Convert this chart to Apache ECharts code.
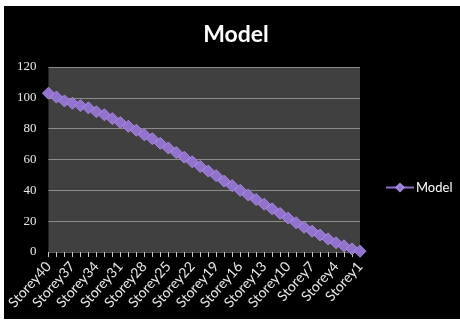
<!DOCTYPE html>
<html>
<head>
<meta charset="utf-8">
<script src="https://cdn.jsdelivr.net/npm/echarts@6/dist/echarts.min.js"></script>
<style>
html,body{margin:0;padding:0;background:#ffffff;width:460px;height:320px;overflow:hidden;}
#c{position:absolute;left:4px;top:6px;width:456px;height:313px;background:#000;}
</style>
</head>
<body>
<div id="c"></div>
<script>
const titleText = "Model";
const seriesName = "Model";
const categories = [];
for (let i = 40; i >= 1; i--) categories.push("Storey" + i);
const modelValues = [103, 100.5, 98, 96.5, 95, 93.5, 91, 89, 86.5, 84,
  81.5, 79, 76, 73.5, 70.5, 67.5, 64.5, 61.5, 58.5, 55.5,
  52.5, 49.5, 46, 43, 40, 37, 34, 31, 28, 25,
  22, 19, 16, 13.5, 11, 8.5, 6, 4, 2, 0.5];
const yTicks = { min: 0, max: 120, interval: 20 };

const chart = echarts.init(document.getElementById('c'), null, {renderer: 'canvas'});
chart.setOption({
  backgroundColor: '#000000',
  animation: false,
  title: {
    text: titleText,
    left: 227, top: 12, textAlign: 'center',
    textStyle: {color: '#ffffff', fontSize: 23, fontWeight: 'bold', fontFamily: 'Lato'}
  },
  legend: {
    data: [seriesName],
    left: 381, top: 175, padding: 0,
    itemWidth: 28, itemHeight: 9, itemGap: 2,
    textStyle: {color: '#ffffff', fontSize: 13, fontFamily: 'Lato', padding: [0, 0, 0, -3]}
  },
  grid: {
    left: 44, top: 61, right: 100, bottom: 67,
    show: true, backgroundColor: '#404040', borderWidth: 0
  },
  xAxis: {
    type: 'category',
    data: categories,
    boundaryGap: false,
    axisLine: {show: true, lineStyle: {color: '#5a5a5a', width: 1}},
    axisTick: {show: true, interval: 0, length: 5, inside: false, lineStyle: {color: '#cccccc'}},
    axisLabel: {
      interval: 2, rotate: 48, margin: 12,
      color: '#e8e8e8', fontSize: 14, fontFamily: 'Lato'
    },
    splitLine: {show: false}
  },
  yAxis: {
    type: 'value',
    min: yTicks.min, max: yTicks.max, interval: yTicks.interval,
    axisLine: {show: false},
    axisTick: {show: false},
    axisLabel: {color: '#e8e8e8', fontSize: 13, fontFamily: 'Liberation Serif', margin: 12},
    splitLine: {show: true, lineStyle: {color: '#8c8c8c', width: 1}}
  },
  series: [{
    name: seriesName,
    type: 'line',
    data: modelValues,
    showAllSymbol: true,
    symbol: 'diamond',
    symbolSize: 12,
    lineStyle: {color: '#8e70c8', width: 3},
    itemStyle: {color: '#9172cc', borderColor: '#a98ae2', borderWidth: 1}
  }]
});
</script>
</body>
</html>
